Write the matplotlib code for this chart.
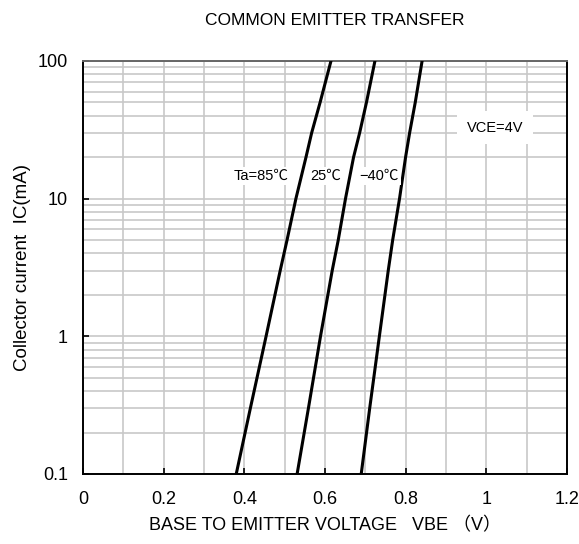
import matplotlib
matplotlib.use("Agg")
import matplotlib.pyplot as plt
from matplotlib.ticker import LogLocator, FixedLocator, NullFormatter

plt.rcParams["font.family"] = ["Liberation Sans", "Noto Sans CJK JP", "DejaVu Sans"]

# collector current points (mA) and VBE read at each (V)
ic = [0.1, 0.3, 1, 3, 5, 10, 20, 30, 50, 100]
vbe_85 = [0.380, 0.415, 0.454, 0.489, 0.506, 0.528, 0.553, 0.567, 0.588, 0.615]
vbe_25 = [0.531, 0.559, 0.589, 0.618, 0.633, 0.651, 0.671, 0.686, 0.703, 0.724]
vbe_m40 = [0.690, 0.711, 0.735, 0.757, 0.768, 0.785, 0.800, 0.810, 0.824, 0.841]

x_ticks = [0, 0.2, 0.4, 0.6, 0.8, 1, 1.2]
x_tick_labels = ["0", "0.2", "0.4", "0.6", "0.8", "1", "1.2"]
y_ticks = [0.1, 1, 10, 100]
y_tick_labels = ["0.1", "1", "10", "100"]

fig = plt.figure(figsize=(5.79, 5.44), dpi=100)
ax = fig.add_axes([0.1434, 0.1287, 0.8356, 0.7592])

for v in (vbe_85, vbe_25, vbe_m40):
    ax.plot(v, ic, color="black", linewidth=2.2, zorder=3)

ax.set_yscale("log")
ax.set_xlim(0, 1.2)
ax.set_ylim(0.1, 100)

ax.set_xticks(x_ticks)
ax.set_xticklabels(x_tick_labels)
ax.xaxis.set_minor_locator(FixedLocator([0.1 * i for i in range(1, 12)]))
ax.set_yticks(y_ticks)
ax.set_yticklabels(y_tick_labels)
ax.yaxis.set_minor_locator(LogLocator(base=10, subs=range(2, 10)))
ax.yaxis.set_minor_formatter(NullFormatter())

ax.grid(True, which="both", color="#c8c8c8", linewidth=1.2, zorder=0)
ax.tick_params(which="major", direction="in", length=4, width=1.2,
               labelsize=13, pad=12)
ax.tick_params(axis="y", which="major", pad=11)
ax.tick_params(which="minor", length=0)

for side in ("left", "bottom", "right"):
    ax.spines[side].set_color("black")
    ax.spines[side].set_linewidth(1.4)
ax.spines["top"].set_color("#666666")
ax.spines["top"].set_linewidth(1.4)

box = dict(facecolor="white", edgecolor="none", pad=1.5)
ax.text(0.441, 14.7, "Ta=85℃", fontsize=10.5, ha="center", va="center", bbox=box, zorder=4)
ax.text(0.603, 14.7, "25℃", fontsize=10.5, ha="center", va="center", bbox=box, zorder=4)
ax.text(0.734, 14.7, "−40℃", fontsize=10.5, ha="center", va="center", bbox=box, zorder=4)
ax.text(1.023, 32.8, "VCE=4V", fontsize=10.5, ha="center", va="center",
        bbox=dict(facecolor="white", edgecolor="none", pad=7), zorder=4)

fig.text(0.578, 0.963, "COMMON EMITTER TRANSFER", fontsize=12.5, ha="center", va="center")
ax.set_xlabel("BASE TO EMITTER VOLTAGE   VBE （V）", fontsize=13, labelpad=7)
ax.set_ylabel("Collector current  IC(mA)", fontsize=13.5, labelpad=5)

fig.savefig("out.png", dpi=100)
